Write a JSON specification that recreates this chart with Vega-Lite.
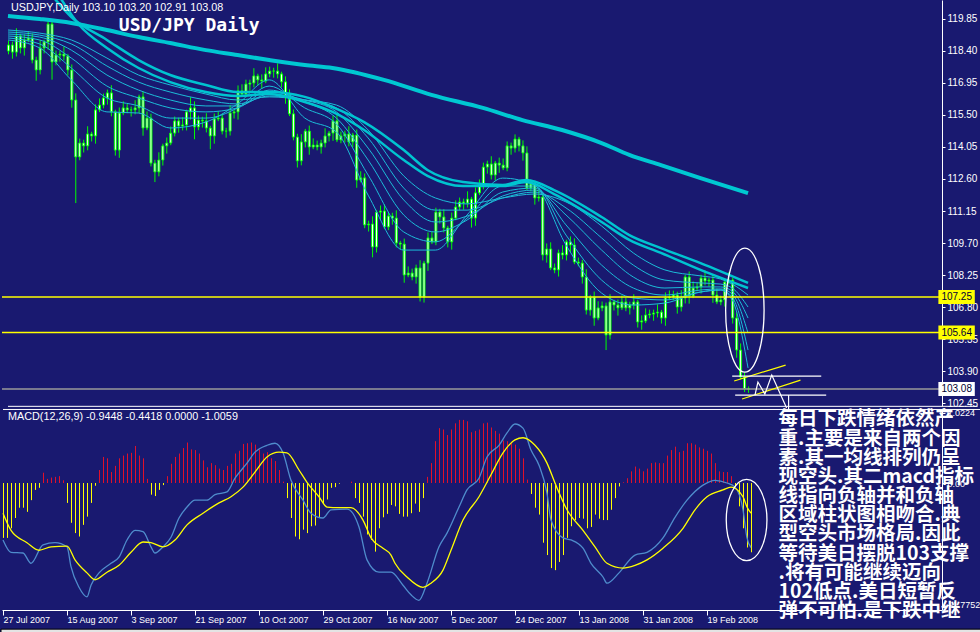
{
"$schema": "https://vega.github.io/schema/vega-lite/v6.json",
"background": "#191970",
"padding": 0,
"bounds": "flush",
"spacing": 3,
"config": {"view": {"stroke": null}, "axis": {"labelOverlap": false, "labelBound": false, "labelFlush": false, "grid": false, "labelColor": "#ffffff", "tickColor": "#ffffff", "domainColor": "#ffffff", "labelFont": "Liberation Sans"}},
"datasets": {
"one": [{}],
"candles": [
{"i":0,"o":118.40,"h":118.87,"l":118.25,"c":118.67},
{"i":1,"o":118.67,"h":118.82,"l":118.05,"c":118.35},
{"i":2,"o":118.35,"h":119.43,"l":118.15,"c":119.08},
{"i":3,"o":119.08,"h":119.18,"l":118.29,"c":118.54},
{"i":4,"o":118.54,"h":119.15,"l":118.19,"c":118.90},
{"i":5,"o":118.90,"h":119.29,"l":118.80,"c":118.99},
{"i":6,"o":118.99,"h":119.19,"l":117.84,"c":117.99},
{"i":7,"o":117.99,"h":118.14,"l":117.05,"c":117.54},
{"i":8,"o":117.54,"h":118.89,"l":117.34,"c":118.54},
{"i":9,"o":118.54,"h":118.91,"l":118.29,"c":118.81},
{"i":10,"o":118.81,"h":119.80,"l":118.46,"c":119.62},
{"i":11,"o":119.62,"h":119.75,"l":117.10,"c":117.90},
{"i":12,"o":117.90,"h":118.42,"l":117.75,"c":118.22},
{"i":13,"o":118.22,"h":118.41,"l":117.92,"c":118.26},
{"i":14,"o":118.26,"h":118.61,"l":117.97,"c":118.17},
{"i":15,"o":118.17,"h":118.27,"l":117.29,"c":117.54},
{"i":16,"o":117.54,"h":117.79,"l":115.83,"c":116.18},
{"i":17,"o":116.18,"h":116.48,"l":111.51,"c":113.60},
{"i":18,"o":113.60,"h":114.43,"l":113.45,"c":114.23},
{"i":19,"o":114.23,"h":114.38,"l":113.80,"c":114.10},
{"i":20,"o":114.10,"h":114.99,"l":113.90,"c":114.64},
{"i":21,"o":114.64,"h":114.74,"l":114.30,"c":114.55},
{"i":22,"o":114.55,"h":115.98,"l":114.20,"c":115.73},
{"i":23,"o":115.73,"h":116.25,"l":115.63,"c":115.95},
{"i":24,"o":115.95,"h":116.47,"l":115.80,"c":116.27},
{"i":25,"o":116.27,"h":116.65,"l":115.97,"c":116.50},
{"i":26,"o":116.50,"h":116.85,"l":115.44,"c":115.64},
{"i":27,"o":115.64,"h":115.74,"l":113.66,"c":113.91},
{"i":28,"o":113.91,"h":115.84,"l":113.56,"c":115.59},
{"i":29,"o":115.59,"h":116.12,"l":115.49,"c":115.82},
{"i":30,"o":115.82,"h":116.02,"l":115.58,"c":115.73},
{"i":31,"o":115.73,"h":115.88,"l":115.43,"c":115.73},
{"i":32,"o":115.73,"h":116.17,"l":115.53,"c":115.82},
{"i":33,"o":115.82,"h":116.42,"l":115.57,"c":116.32},
{"i":34,"o":116.32,"h":116.57,"l":114.56,"c":114.91},
{"i":35,"o":114.91,"h":115.66,"l":114.81,"c":115.36},
{"i":36,"o":115.36,"h":115.56,"l":113.17,"c":113.32},
{"i":37,"o":113.32,"h":113.47,"l":112.46,"c":112.92},
{"i":38,"o":112.92,"h":113.81,"l":112.72,"c":113.46},
{"i":39,"o":113.46,"h":114.20,"l":113.21,"c":114.10},
{"i":40,"o":114.10,"h":114.48,"l":113.75,"c":114.23},
{"i":41,"o":114.23,"h":114.98,"l":114.13,"c":114.68},
{"i":42,"o":114.68,"h":115.43,"l":114.53,"c":115.23},
{"i":43,"o":115.23,"h":115.38,"l":114.70,"c":115.00},
{"i":44,"o":115.00,"h":115.40,"l":114.80,"c":115.05},
{"i":45,"o":115.05,"h":115.74,"l":114.80,"c":115.64},
{"i":46,"o":115.64,"h":116.30,"l":115.29,"c":115.82},
{"i":47,"o":115.82,"h":116.12,"l":114.40,"c":114.96},
{"i":48,"o":114.96,"h":115.47,"l":114.81,"c":115.27},
{"i":49,"o":115.27,"h":115.42,"l":114.93,"c":115.23},
{"i":50,"o":115.23,"h":115.58,"l":114.71,"c":114.91},
{"i":51,"o":114.91,"h":115.01,"l":113.95,"c":114.55},
{"i":52,"o":114.55,"h":115.57,"l":114.20,"c":115.32},
{"i":53,"o":115.32,"h":115.66,"l":115.22,"c":115.36},
{"i":54,"o":115.36,"h":115.56,"l":114.62,"c":114.77},
{"i":55,"o":114.77,"h":114.92,"l":114.47,"c":114.77},
{"i":56,"o":114.77,"h":115.94,"l":114.57,"c":115.59},
{"i":57,"o":115.59,"h":115.74,"l":115.34,"c":115.64},
{"i":58,"o":115.64,"h":116.84,"l":115.29,"c":116.59},
{"i":59,"o":116.59,"h":116.89,"l":116.35,"c":116.45},
{"i":60,"o":116.45,"h":117.10,"l":116.30,"c":116.90},
{"i":61,"o":116.90,"h":117.10,"l":116.60,"c":116.95},
{"i":62,"o":116.95,"h":117.62,"l":116.75,"c":117.27},
{"i":63,"o":117.27,"h":117.37,"l":116.84,"c":117.09},
{"i":64,"o":117.09,"h":117.34,"l":116.69,"c":117.04},
{"i":65,"o":117.04,"h":117.66,"l":116.94,"c":117.36},
{"i":66,"o":117.36,"h":117.69,"l":117.21,"c":117.49},
{"i":67,"o":117.49,"h":117.64,"l":117.19,"c":117.49},
{"i":68,"o":117.49,"h":117.84,"l":117.16,"c":117.36},
{"i":69,"o":117.36,"h":117.46,"l":116.75,"c":117.00},
{"i":70,"o":117.00,"h":117.25,"l":116.01,"c":116.36},
{"i":71,"o":116.36,"h":116.66,"l":115.45,"c":115.55},
{"i":72,"o":115.55,"h":115.75,"l":114.35,"c":114.50},
{"i":73,"o":114.50,"h":114.65,"l":113.12,"c":113.42},
{"i":74,"o":113.42,"h":114.63,"l":113.22,"c":114.28},
{"i":75,"o":114.28,"h":114.87,"l":114.03,"c":114.77},
{"i":76,"o":114.77,"h":115.02,"l":113.70,"c":114.05},
{"i":77,"o":114.05,"h":114.44,"l":113.95,"c":114.14},
{"i":78,"o":114.14,"h":114.34,"l":113.90,"c":114.05},
{"i":79,"o":114.05,"h":114.38,"l":113.75,"c":114.23},
{"i":80,"o":114.23,"h":114.90,"l":114.03,"c":114.55},
{"i":81,"o":114.55,"h":114.78,"l":114.30,"c":114.68},
{"i":82,"o":114.68,"h":115.48,"l":114.33,"c":115.23},
{"i":83,"o":115.23,"h":115.53,"l":114.27,"c":114.37},
{"i":84,"o":114.37,"h":114.75,"l":114.22,"c":114.55},
{"i":85,"o":114.55,"h":114.79,"l":114.25,"c":114.64},
{"i":86,"o":114.64,"h":114.99,"l":114.08,"c":114.28},
{"i":87,"o":114.28,"h":114.69,"l":114.03,"c":114.59},
{"i":88,"o":114.59,"h":114.84,"l":112.20,"c":112.55},
{"i":89,"o":112.55,"h":112.95,"l":112.45,"c":112.65},
{"i":90,"o":112.65,"h":112.85,"l":110.37,"c":110.52},
{"i":91,"o":110.52,"h":110.71,"l":110.22,"c":110.56},
{"i":92,"o":110.56,"h":110.91,"l":109.05,"c":109.52},
{"i":93,"o":109.52,"h":111.20,"l":109.27,"c":111.10},
{"i":94,"o":111.10,"h":111.40,"l":110.75,"c":111.15},
{"i":95,"o":111.15,"h":111.45,"l":110.33,"c":110.43},
{"i":96,"o":110.43,"h":111.12,"l":110.28,"c":110.92},
{"i":97,"o":110.92,"h":111.07,"l":110.53,"c":110.83},
{"i":98,"o":110.83,"h":111.18,"l":109.50,"c":109.70},
{"i":99,"o":109.70,"h":109.80,"l":109.40,"c":109.65},
{"i":100,"o":109.65,"h":109.90,"l":107.90,"c":108.25},
{"i":101,"o":108.25,"h":108.64,"l":108.15,"c":108.34},
{"i":102,"o":108.34,"h":108.54,"l":108.01,"c":108.16},
{"i":103,"o":108.16,"h":108.72,"l":107.86,"c":108.57},
{"i":104,"o":108.57,"h":108.92,"l":107.05,"c":107.25},
{"i":105,"o":107.25,"h":108.89,"l":107.00,"c":108.79},
{"i":106,"o":108.79,"h":110.18,"l":108.44,"c":109.93},
{"i":107,"o":109.93,"h":110.23,"l":109.65,"c":109.75},
{"i":108,"o":109.75,"h":111.30,"l":109.60,"c":111.10},
{"i":109,"o":111.10,"h":111.25,"l":110.58,"c":110.88},
{"i":110,"o":110.88,"h":111.23,"l":110.18,"c":110.38},
{"i":111,"o":110.38,"h":110.48,"l":109.50,"c":109.75},
{"i":112,"o":109.75,"h":111.08,"l":109.40,"c":110.83},
{"i":113,"o":110.83,"h":111.63,"l":110.73,"c":111.33},
{"i":114,"o":111.33,"h":111.76,"l":111.18,"c":111.56},
{"i":115,"o":111.56,"h":111.71,"l":111.21,"c":111.51},
{"i":116,"o":111.51,"h":112.04,"l":111.31,"c":111.69},
{"i":117,"o":111.69,"h":111.79,"l":110.40,"c":110.83},
{"i":118,"o":110.83,"h":112.22,"l":110.48,"c":111.97},
{"i":119,"o":111.97,"h":112.58,"l":111.87,"c":112.28},
{"i":120,"o":112.28,"h":113.34,"l":112.13,"c":113.14},
{"i":121,"o":113.14,"h":113.43,"l":112.84,"c":113.28},
{"i":122,"o":113.28,"h":113.63,"l":112.58,"c":112.78},
{"i":123,"o":112.78,"h":113.42,"l":112.53,"c":113.32},
{"i":124,"o":113.32,"h":113.57,"l":112.88,"c":113.23},
{"i":125,"o":113.23,"h":113.53,"l":113.00,"c":113.10},
{"i":126,"o":113.10,"h":114.30,"l":112.95,"c":114.10},
{"i":127,"o":114.10,"h":114.25,"l":113.70,"c":114.00},
{"i":128,"o":114.00,"h":114.62,"l":113.80,"c":114.41},
{"i":129,"o":114.41,"h":114.51,"l":113.85,"c":114.10},
{"i":130,"o":114.10,"h":114.35,"l":113.43,"c":113.78},
{"i":131,"o":113.78,"h":114.08,"l":112.09,"c":112.19},
{"i":132,"o":112.19,"h":112.57,"l":112.04,"c":112.37},
{"i":133,"o":112.37,"h":112.52,"l":111.44,"c":111.74},
{"i":134,"o":111.74,"h":112.13,"l":111.58,"c":111.78},
{"i":135,"o":111.78,"h":111.88,"l":108.91,"c":109.16},
{"i":136,"o":109.16,"h":109.68,"l":108.81,"c":109.43},
{"i":137,"o":109.43,"h":109.73,"l":108.47,"c":108.57},
{"i":138,"o":108.57,"h":108.77,"l":108.33,"c":108.48},
{"i":139,"o":108.48,"h":109.40,"l":108.18,"c":109.25},
{"i":140,"o":109.25,"h":109.60,"l":108.96,"c":109.16},
{"i":141,"o":109.16,"h":109.85,"l":108.91,"c":109.75},
{"i":142,"o":109.75,"h":110.00,"l":109.26,"c":109.61},
{"i":143,"o":109.61,"h":109.91,"l":108.74,"c":108.84},
{"i":144,"o":108.84,"h":109.04,"l":108.64,"c":108.79},
{"i":145,"o":108.79,"h":108.94,"l":107.86,"c":108.16},
{"i":146,"o":108.16,"h":108.51,"l":106.46,"c":106.66},
{"i":147,"o":106.66,"h":107.35,"l":106.41,"c":107.25},
{"i":148,"o":107.25,"h":107.50,"l":105.95,"c":106.30},
{"i":149,"o":106.30,"h":107.06,"l":106.20,"c":106.76},
{"i":150,"o":106.76,"h":107.05,"l":106.61,"c":106.85},
{"i":151,"o":106.85,"h":107.00,"l":104.85,"c":105.53},
{"i":152,"o":105.53,"h":107.38,"l":105.33,"c":107.03},
{"i":153,"o":107.03,"h":107.13,"l":106.64,"c":106.89},
{"i":154,"o":106.89,"h":107.14,"l":106.41,"c":106.76},
{"i":155,"o":106.76,"h":107.33,"l":106.66,"c":107.03},
{"i":156,"o":107.03,"h":107.23,"l":106.61,"c":106.76},
{"i":157,"o":106.76,"h":107.04,"l":106.46,"c":106.89},
{"i":158,"o":106.89,"h":107.38,"l":106.69,"c":107.03},
{"i":159,"o":107.03,"h":107.13,"l":105.87,"c":106.12},
{"i":160,"o":106.12,"h":106.42,"l":105.77,"c":106.17},
{"i":161,"o":106.17,"h":106.74,"l":106.07,"c":106.44},
{"i":162,"o":106.44,"h":106.68,"l":106.29,"c":106.48},
{"i":163,"o":106.48,"h":106.68,"l":106.18,"c":106.53},
{"i":164,"o":106.53,"h":106.92,"l":106.33,"c":106.57},
{"i":165,"o":106.57,"h":106.67,"l":106.05,"c":106.30},
{"i":166,"o":106.30,"h":107.46,"l":105.95,"c":107.21},
{"i":167,"o":107.21,"h":107.55,"l":107.11,"c":107.25},
{"i":168,"o":107.25,"h":107.54,"l":107.10,"c":107.34},
{"i":169,"o":107.34,"h":107.49,"l":106.50,"c":106.80},
{"i":170,"o":106.80,"h":107.56,"l":106.60,"c":107.21},
{"i":171,"o":107.21,"h":108.26,"l":106.96,"c":108.16},
{"i":172,"o":108.16,"h":108.41,"l":106.95,"c":107.30},
{"i":173,"o":107.30,"h":107.96,"l":107.20,"c":107.66},
{"i":174,"o":107.66,"h":107.91,"l":107.51,"c":107.71},
{"i":175,"o":107.71,"h":108.26,"l":107.41,"c":108.11},
{"i":176,"o":108.11,"h":108.46,"l":107.78,"c":107.98},
{"i":177,"o":107.98,"h":108.12,"l":107.73,"c":108.02},
{"i":178,"o":108.02,"h":108.27,"l":106.99,"c":107.34},
{"i":179,"o":107.34,"h":107.64,"l":106.93,"c":107.03},
{"i":180,"o":107.03,"h":107.32,"l":106.88,"c":107.12},
{"i":181,"o":107.12,"h":108.08,"l":106.82,"c":107.93},
{"i":182,"o":107.93,"h":108.37,"l":107.82,"c":108.02},
{"i":183,"o":108.02,"h":108.12,"l":106.05,"c":106.30},
{"i":184,"o":106.30,"h":106.55,"l":104.50,"c":104.85},
{"i":185,"o":104.85,"h":105.15,"l":103.53,"c":103.63},
{"i":186,"o":103.63,"h":103.83,"l":102.95,"c":103.10},
{"i":187,"o":103.10,"h":103.20,"l":102.91,"c":103.08}
],
"ma": [
{"s":"A","i":0,"p":119.99},{"s":"A","i":8,"p":119.85},{"s":"A","i":16,"p":119.67},{"s":"A","i":25,"p":119.35},{"s":"A","i":33,"p":119.03},{"s":"A","i":41,"p":118.76},{"s":"A","i":50,"p":118.44},{"s":"A","i":58,"p":118.22},{"s":"A","i":66,"p":117.99},{"s":"A","i":75,"p":117.76},{"s":"A","i":82,"p":117.63},{"s":"A","i":95,"p":117.09},{"s":"A","i":107,"p":116.41},{"s":"A","i":120,"p":115.82},{"s":"A","i":130,"p":115.27},{"s":"A","i":140,"p":114.82},{"s":"A","i":150,"p":114.23},{"s":"A","i":157,"p":113.69},{"s":"A","i":165,"p":113.23},{"s":"A","i":175,"p":112.64},{"s":"A","i":187,"p":111.96},
{"s":"B1","i":10,"p":121.16},{"s":"B1","i":16,"p":119.94},{"s":"B1","i":25,"p":118.90},{"s":"B1","i":33,"p":117.99},{"s":"B1","i":41,"p":117.31},{"s":"B1","i":50,"p":116.86},{"s":"B1","i":58,"p":116.54},{"s":"B1","i":66,"p":116.54},{"s":"B1","i":75,"p":116.32},{"s":"B1","i":82,"p":115.86},{"s":"B1","i":90,"p":115.18},{"s":"B1","i":100,"p":113.91},{"s":"B1","i":106,"p":113.01},{"s":"B1","i":115,"p":112.46},{"s":"B1","i":125,"p":112.33},{"s":"B1","i":131,"p":112.55},{"s":"B1","i":138,"p":112.10},{"s":"B1","i":150,"p":110.88},{"s":"B1","i":157,"p":110.06},{"s":"B1","i":165,"p":109.47},{"s":"B1","i":175,"p":108.79},{"s":"B1","i":187,"p":107.89},
{"s":"B2","i":12,"p":121.16},{"s":"B2","i":18,"p":119.58},{"s":"B2","i":25,"p":118.54},{"s":"B2","i":33,"p":117.63},{"s":"B2","i":41,"p":116.99},{"s":"B2","i":50,"p":116.54},{"s":"B2","i":58,"p":116.36},{"s":"B2","i":66,"p":116.45},{"s":"B2","i":75,"p":116.09},{"s":"B2","i":82,"p":115.64},{"s":"B2","i":90,"p":114.82},{"s":"B2","i":100,"p":113.46},{"s":"B2","i":106,"p":112.74},{"s":"B2","i":115,"p":112.28},{"s":"B2","i":125,"p":112.28},{"s":"B2","i":131,"p":112.46},{"s":"B2","i":138,"p":111.92},{"s":"B2","i":150,"p":110.65},{"s":"B2","i":157,"p":109.84},{"s":"B2","i":165,"p":109.25},{"s":"B2","i":175,"p":108.48},{"s":"B2","i":187,"p":107.66},
{"s":"T1","i":0,"p":118.90},{"s":"T1","i":8,"p":118.54},{"s":"T1","i":16,"p":117.09},{"s":"T1","i":25,"p":115.64},{"s":"T1","i":33,"p":115.59},{"s":"T1","i":41,"p":114.91},{"s":"T1","i":50,"p":115.18},{"s":"T1","i":58,"p":116.00},{"s":"T1","i":66,"p":117.09},{"s":"T1","i":75,"p":115.36},{"s":"T1","i":83,"p":114.73},{"s":"T1","i":91,"p":111.87},{"s":"T1","i":100,"p":109.38},{"s":"T1","i":108,"p":109.38},{"s":"T1","i":116,"p":110.97},{"s":"T1","i":125,"p":112.64},{"s":"T1","i":133,"p":112.33},{"s":"T1","i":141,"p":109.61},{"s":"T1","i":150,"p":107.43},{"s":"T1","i":158,"p":106.89},{"s":"T1","i":166,"p":106.98},{"s":"T1","i":175,"p":107.48},{"s":"T1","i":180,"p":107.57},{"s":"T1","i":183,"p":107.12},{"s":"T1","i":187,"p":104.04},
{"s":"T2","i":0,"p":118.99},{"s":"T2","i":8,"p":118.72},{"s":"T2","i":16,"p":117.63},{"s":"T2","i":25,"p":116.27},{"s":"T2","i":33,"p":115.91},{"s":"T2","i":41,"p":115.36},{"s":"T2","i":50,"p":115.36},{"s":"T2","i":58,"p":115.82},{"s":"T2","i":66,"p":116.81},{"s":"T2","i":75,"p":115.82},{"s":"T2","i":83,"p":115.09},{"s":"T2","i":91,"p":112.78},{"s":"T2","i":100,"p":110.20},{"s":"T2","i":108,"p":109.75},{"s":"T2","i":116,"p":110.83},{"s":"T2","i":125,"p":112.28},{"s":"T2","i":133,"p":112.28},{"s":"T2","i":141,"p":110.06},{"s":"T2","i":150,"p":108.02},{"s":"T2","i":158,"p":107.21},{"s":"T2","i":166,"p":107.12},{"s":"T2","i":175,"p":107.48},{"s":"T2","i":180,"p":107.57},{"s":"T2","i":183,"p":107.25},{"s":"T2","i":187,"p":104.85},
{"s":"T3","i":0,"p":119.08},{"s":"T3","i":8,"p":118.90},{"s":"T3","i":16,"p":118.08},{"s":"T3","i":25,"p":116.81},{"s":"T3","i":33,"p":116.27},{"s":"T3","i":41,"p":115.82},{"s":"T3","i":50,"p":115.64},{"s":"T3","i":58,"p":115.82},{"s":"T3","i":66,"p":116.63},{"s":"T3","i":75,"p":116.09},{"s":"T3","i":83,"p":115.36},{"s":"T3","i":91,"p":113.46},{"s":"T3","i":100,"p":110.97},{"s":"T3","i":108,"p":110.20},{"s":"T3","i":116,"p":110.74},{"s":"T3","i":125,"p":112.01},{"s":"T3","i":133,"p":112.19},{"s":"T3","i":141,"p":110.52},{"s":"T3","i":150,"p":108.70},{"s":"T3","i":158,"p":107.66},{"s":"T3","i":166,"p":107.34},{"s":"T3","i":175,"p":107.57},{"s":"T3","i":180,"p":107.62},{"s":"T3","i":183,"p":107.39},{"s":"T3","i":187,"p":105.62},
{"s":"T4","i":0,"p":119.17},{"s":"T4","i":8,"p":119.03},{"s":"T4","i":16,"p":118.44},{"s":"T4","i":25,"p":117.31},{"s":"T4","i":33,"p":116.63},{"s":"T4","i":41,"p":116.18},{"s":"T4","i":50,"p":115.91},{"s":"T4","i":58,"p":115.91},{"s":"T4","i":66,"p":116.45},{"s":"T4","i":75,"p":116.18},{"s":"T4","i":83,"p":115.64},{"s":"T4","i":91,"p":114.00},{"s":"T4","i":100,"p":111.65},{"s":"T4","i":108,"p":110.65},{"s":"T4","i":116,"p":110.92},{"s":"T4","i":125,"p":111.83},{"s":"T4","i":133,"p":112.10},{"s":"T4","i":141,"p":110.97},{"s":"T4","i":150,"p":109.38},{"s":"T4","i":158,"p":108.16},{"s":"T4","i":166,"p":107.66},{"s":"T4","i":175,"p":107.71},{"s":"T4","i":180,"p":107.71},{"s":"T4","i":183,"p":107.52},{"s":"T4","i":187,"p":106.30},
{"s":"T5","i":0,"p":119.26},{"s":"T5","i":8,"p":119.12},{"s":"T5","i":16,"p":118.72},{"s":"T5","i":25,"p":117.72},{"s":"T5","i":33,"p":116.99},{"s":"T5","i":41,"p":116.54},{"s":"T5","i":50,"p":116.18},{"s":"T5","i":58,"p":116.00},{"s":"T5","i":66,"p":116.36},{"s":"T5","i":75,"p":116.18},{"s":"T5","i":83,"p":115.82},{"s":"T5","i":91,"p":114.46},{"s":"T5","i":100,"p":112.19},{"s":"T5","i":108,"p":111.19},{"s":"T5","i":116,"p":111.19},{"s":"T5","i":125,"p":111.74},{"s":"T5","i":133,"p":112.01},{"s":"T5","i":141,"p":111.29},{"s":"T5","i":150,"p":109.93},{"s":"T5","i":158,"p":108.70},{"s":"T5","i":166,"p":108.02},{"s":"T5","i":175,"p":107.89},{"s":"T5","i":180,"p":107.84},{"s":"T5","i":183,"p":107.66},{"s":"T5","i":187,"p":106.80},
{"s":"T6","i":0,"p":119.35},{"s":"T6","i":8,"p":119.21},{"s":"T6","i":16,"p":118.90},{"s":"T6","i":25,"p":118.08},{"s":"T6","i":33,"p":117.31},{"s":"T6","i":41,"p":116.86},{"s":"T6","i":50,"p":116.45},{"s":"T6","i":58,"p":116.18},{"s":"T6","i":66,"p":116.32},{"s":"T6","i":75,"p":116.18},{"s":"T6","i":83,"p":115.95},{"s":"T6","i":91,"p":114.82},{"s":"T6","i":100,"p":112.74},{"s":"T6","i":108,"p":111.74},{"s":"T6","i":116,"p":111.47},{"s":"T6","i":125,"p":111.74},{"s":"T6","i":133,"p":111.92},{"s":"T6","i":141,"p":111.56},{"s":"T6","i":150,"p":110.47},{"s":"T6","i":158,"p":109.25},{"s":"T6","i":166,"p":108.48},{"s":"T6","i":175,"p":108.21},{"s":"T6","i":180,"p":108.07},{"s":"T6","i":183,"p":107.84},{"s":"T6","i":187,"p":107.34}
],
"levels": [
{"p":107.25,"k":"y"},{"p":105.64,"k":"y"},{"p":103.08,"k":"g"}
],
"annot": [
{"g":"y1","i":183.5,"p":103.45},{"g":"y1","i":196.5,"p":104.17},
{"g":"y2","i":185.5,"p":102.63},{"g":"y2","i":200.25,"p":103.49},
{"g":"w1","i":183,"p":103.67},{"g":"w1","i":205.5,"p":103.67},
{"g":"w2","i":183.75,"p":102.81},{"g":"w2","i":206.75,"p":102.81},
{"g":"zz","i":188.75,"p":102.81},{"g":"zz","i":189.5,"p":103.40},{"g":"zz","i":191.25,"p":102.86},{"g":"zz","i":193,"p":103.72},{"g":"zz","i":196.75,"p":102.22},
{"g":"v","i":197.25,"p":102.81},{"g":"v","i":197.25,"p":102.10}
],
"hist": [
{"i":0,"h":-0.80},{"i":1,"h":-0.80},{"i":2,"h":-0.66},{"i":3,"h":-0.51},{"i":4,"h":-0.36},{"i":5,"h":-0.36},{"i":6,"h":-0.42},{"i":7,"h":-0.25},{"i":8,"h":-0.10},{"i":9,"h":-0.07},
{"i":10,"h":0.15},{"i":11,"h":0.06},{"i":12,"h":0.08},{"i":13,"h":0.09},{"i":14,"h":0.10},{"i":15,"h":0.04},{"i":16,"h":-0.29},{"i":17,"h":-0.58},{"i":18,"h":-0.73},{"i":19,"h":-0.78},
{"i":20,"h":-0.61},{"i":21,"h":-0.49},{"i":22,"h":-0.29},{"i":23,"h":-0.04},{"i":24,"h":0.19},{"i":25,"h":0.38},{"i":26,"h":0.36},{"i":27,"h":0.16},{"i":28,"h":0.25},{"i":29,"h":0.36},
{"i":30,"h":0.40},{"i":31,"h":0.43},{"i":32,"h":0.44},{"i":33,"h":0.54},{"i":34,"h":0.40},{"i":35,"h":0.36},{"i":36,"h":0.06},{"i":37,"h":-0.17},{"i":38,"h":-0.19},{"i":39,"h":-0.10},
{"i":40,"h":-0.03},{"i":41,"h":0.10},{"i":42,"h":0.28},{"i":43,"h":0.38},{"i":44,"h":0.43},{"i":45,"h":0.51},{"i":46,"h":0.59},{"i":47,"h":0.49},{"i":48,"h":0.48},{"i":49,"h":0.43},
{"i":50,"h":0.33},{"i":51,"h":0.23},{"i":52,"h":0.29},{"i":53,"h":0.26},{"i":54,"h":0.21},{"i":55,"h":0.19},{"i":56,"h":0.25},{"i":57,"h":0.28},{"i":58,"h":0.43},{"i":59,"h":0.47},
{"i":60,"h":0.57},{"i":61,"h":0.58},{"i":62,"h":0.59},{"i":63,"h":0.56},{"i":64,"h":0.49},{"i":65,"h":0.43},{"i":66,"h":0.45},{"i":67,"h":0.36},{"i":68,"h":0.32},{"i":69,"h":0.19},
{"i":70,"h":0.02},{"i":71,"h":-0.22},{"i":72,"h":-0.51},{"i":73,"h":-0.78},{"i":74,"h":-0.82},{"i":75,"h":-0.68},{"i":76,"h":-0.73},{"i":77,"h":-0.63},{"i":78,"h":-0.62},{"i":79,"h":-0.51},
{"i":80,"h":-0.29},{"i":81,"h":-0.24},{"i":82,"h":-0.07},{"i":83,"h":-0.06},{"i":84,"h":-0.01},{"i":85,"h":0},{"i":86,"h":0},{"i":87,"h":0.02},{"i":88,"h":-0.22},{"i":89,"h":-0.29},
{"i":90,"h":-0.49},{"i":91,"h":-0.75},{"i":92,"h":-0.83},{"i":93,"h":-1.00},{"i":94,"h":-0.66},{"i":95,"h":-0.50},{"i":96,"h":-0.45},{"i":97,"h":-0.32},{"i":98,"h":-0.34},{"i":99,"h":-0.45},
{"i":100,"h":-0.49},{"i":101,"h":-0.49},{"i":102,"h":-0.44},{"i":103,"h":-0.30},{"i":104,"h":-0.42},{"i":105,"h":-0.22},{"i":106,"h":0.09},{"i":107,"h":0.29},{"i":108,"h":0.61},{"i":109,"h":0.80},
{"i":110,"h":0.78},{"i":111,"h":0.70},{"i":112,"h":0.78},{"i":113,"h":0.87},{"i":114,"h":0.92},{"i":115,"h":0.92},{"i":116,"h":0.90},{"i":117,"h":0.74},{"i":118,"h":0.76},{"i":119,"h":0.78},
{"i":120,"h":0.87},{"i":121,"h":0.88},{"i":122,"h":0.81},{"i":123,"h":0.76},{"i":124,"h":0.72},{"i":125,"h":0.62},{"i":126,"h":0.61},{"i":127,"h":0.58},{"i":128,"h":0.56},{"i":129,"h":0.50},
{"i":130,"h":0.36},{"i":131,"h":0.05},{"i":132,"h":-0.16},{"i":133,"h":-0.36},{"i":134,"h":-0.46},{"i":135,"h":-0.87},{"i":136,"h":-1.05},{"i":137,"h":-1.24},{"i":138,"h":-1.27},{"i":139,"h":-1.15},
{"i":140,"h":-1.05},{"i":141,"h":-0.80},{"i":142,"h":-0.63},{"i":143,"h":-0.54},{"i":144,"h":-0.51},{"i":145,"h":-0.52},{"i":146,"h":-0.66},{"i":147,"h":-0.64},{"i":148,"h":-0.46},{"i":149,"h":-0.52},
{"i":150,"h":-0.54},{"i":151,"h":-0.54},{"i":152,"h":-0.39},{"i":153,"h":-0.22},{"i":154,"h":-0.05},{"i":155,"h":0.01},{"i":156,"h":0.07},{"i":157,"h":0.17},{"i":158,"h":0.24},{"i":159,"h":0.21},
{"i":160,"h":0.17},{"i":161,"h":0.21},{"i":162,"h":0.29},{"i":163,"h":0.30},{"i":164,"h":0.29},{"i":165,"h":0.29},{"i":166,"h":0.40},{"i":167,"h":0.48},{"i":168,"h":0.53},{"i":169,"h":0.45},
{"i":170,"h":0.47},{"i":171,"h":0.58},{"i":172,"h":0.58},{"i":173,"h":0.56},{"i":174,"h":0.52},{"i":175,"h":0.50},{"i":176,"h":0.47},{"i":177,"h":0.43},{"i":178,"h":0.29},{"i":179,"h":0.17},
{"i":180,"h":0.16},{"i":181,"h":0.16},{"i":182,"h":0.10},{"i":183,"h":-0.07},{"i":184,"h":-0.34},{"i":185,"h":-0.66},{"i":186,"h":-0.94},{"i":187,"h":-1.01}
],
"macdlines": [
{"s":"m","i":0,"v":-0.83},{"s":"m","i":2,"v":-1.01},{"s":"m","i":5,"v":-1.02},{"s":"m","i":7,"v":-1.17},{"s":"m","i":10,"v":-0.90},{"s":"m","i":13,"v":-0.87},{"s":"m","i":16,"v":-0.93},{"s":"m","i":17,"v":-1.22},{"s":"m","i":19,"v":-1.52},{"s":"m","i":21,"v":-1.66},{"s":"m","i":22,"v":-1.49},{"s":"m","i":24,"v":-1.31},{"s":"m","i":27,"v":-1.17},{"s":"m","i":29,"v":-1.08},{"s":"m","i":31,"v":-0.83},{"s":"m","i":33,"v":-0.69},{"s":"m","i":35,"v":-0.71},{"s":"m","i":37,"v":-0.93},{"s":"m","i":38,"v":-1.02},{"s":"m","i":40,"v":-0.93},{"s":"m","i":42,"v":-0.79},{"s":"m","i":44,"v":-0.51},{"s":"m","i":46,"v":-0.35},{"s":"m","i":48,"v":-0.25},{"s":"m","i":51,"v":-0.25},{"s":"m","i":53,"v":-0.17},{"s":"m","i":56,"v":-0.13},{"s":"m","i":58,"v":0.07},{"s":"m","i":61,"v":0.29},{"s":"m","i":63,"v":0.45},{"s":"m","i":66,"v":0.55},{"s":"m","i":68,"v":0.58},{"s":"m","i":70,"v":0.44},{"s":"m","i":72,"v":0.04},{"s":"m","i":75,"v":-0.25},{"s":"m","i":77,"v":-0.44},{"s":"m","i":80,"v":-0.51},{"s":"m","i":82,"v":-0.39},{"s":"m","i":86,"v":-0.38},{"s":"m","i":89,"v":-0.64},{"s":"m","i":91,"v":-1.12},{"s":"m","i":94,"v":-1.30},{"s":"m","i":97,"v":-1.30},{"s":"m","i":100,"v":-1.49},{"s":"m","i":102,"v":-1.63},{"s":"m","i":104,"v":-1.71},{"s":"m","i":106,"v":-1.46},{"s":"m","i":109,"v":-0.93},{"s":"m","i":111,"v":-0.73},{"s":"m","i":114,"v":-0.35},{"s":"m","i":116,"v":-0.10},{"s":"m","i":119,"v":0.07},{"s":"m","i":121,"v":0.38},{"s":"m","i":124,"v":0.55},{"s":"m","i":126,"v":0.73},{"s":"m","i":128,"v":0.86},{"s":"m","i":130,"v":0.80},{"s":"m","i":132,"v":0.48},{"s":"m","i":134,"v":0.26},{"s":"m","i":136,"v":-0.15},{"s":"m","i":137,"v":-0.54},{"s":"m","i":140,"v":-0.80},{"s":"m","i":142,"v":-0.83},{"s":"m","i":145,"v":-0.95},{"s":"m","i":147,"v":-1.17},{"s":"m","i":150,"v":-1.37},{"s":"m","i":151,"v":-1.46},{"s":"m","i":154,"v":-1.31},{"s":"m","i":158,"v":-1.05},{"s":"m","i":161,"v":-1.01},{"s":"m","i":165,"v":-0.80},{"s":"m","i":168,"v":-0.50},{"s":"m","i":171,"v":-0.25},{"s":"m","i":175,"v":-0.03},{"s":"m","i":178,"v":0.04},{"s":"m","i":181,"v":0.00},{"s":"m","i":183,"v":-0.06},{"s":"m","i":185,"v":-0.39},{"s":"m","i":186,"v":-0.80},{"s":"m","i":187,"v":-0.94},
{"s":"sg","i":0,"v":-0.44},{"s":"sg","i":2,"v":-0.69},{"s":"sg","i":6,"v":-0.87},{"s":"sg","i":9,"v":-0.98},{"s":"sg","i":12,"v":-0.93},{"s":"sg","i":16,"v":-0.92},{"s":"sg","i":18,"v":-1.12},{"s":"sg","i":21,"v":-1.31},{"s":"sg","i":23,"v":-1.41},{"s":"sg","i":26,"v":-1.30},{"s":"sg","i":29,"v":-1.20},{"s":"sg","i":32,"v":-1.01},{"s":"sg","i":35,"v":-0.86},{"s":"sg","i":37,"v":-0.87},{"s":"sg","i":40,"v":-0.93},{"s":"sg","i":43,"v":-0.83},{"s":"sg","i":46,"v":-0.61},{"s":"sg","i":50,"v":-0.44},{"s":"sg","i":54,"v":-0.29},{"s":"sg","i":57,"v":-0.20},{"s":"sg","i":60,"v":-0.06},{"s":"sg","i":63,"v":0.16},{"s":"sg","i":66,"v":0.38},{"s":"sg","i":69,"v":0.45},{"s":"sg","i":71,"v":0.44},{"s":"sg","i":74,"v":0.19},{"s":"sg","i":76,"v":0.01},{"s":"sg","i":79,"v":-0.20},{"s":"sg","i":81,"v":-0.35},{"s":"sg","i":84,"v":-0.36},{"s":"sg","i":87,"v":-0.36},{"s":"sg","i":90,"v":-0.54},{"s":"sg","i":92,"v":-0.80},{"s":"sg","i":95,"v":-0.95},{"s":"sg","i":97,"v":-1.05},{"s":"sg","i":98,"v":-1.17},{"s":"sg","i":101,"v":-1.37},{"s":"sg","i":105,"v":-1.52},{"s":"sg","i":107,"v":-1.46},{"s":"sg","i":110,"v":-1.27},{"s":"sg","i":112,"v":-0.98},{"s":"sg","i":115,"v":-0.54},{"s":"sg","i":119,"v":-0.20},{"s":"sg","i":122,"v":0.12},{"s":"sg","i":125,"v":0.44},{"s":"sg","i":128,"v":0.63},{"s":"sg","i":130,"v":0.66},{"s":"sg","i":133,"v":0.55},{"s":"sg","i":136,"v":0.29},{"s":"sg","i":138,"v":0.00},{"s":"sg","i":141,"v":-0.39},{"s":"sg","i":145,"v":-0.69},{"s":"sg","i":148,"v":-0.93},{"s":"sg","i":151,"v":-1.17},{"s":"sg","i":155,"v":-1.24},{"s":"sg","i":158,"v":-1.20},{"s":"sg","i":161,"v":-1.12},{"s":"sg","i":165,"v":-0.95},{"s":"sg","i":170,"v":-0.66},{"s":"sg","i":173,"v":-0.39},{"s":"sg","i":176,"v":-0.20},{"s":"sg","i":180,"v":-0.10},{"s":"sg","i":182,"v":-0.06},{"s":"sg","i":185,"v":-0.20},{"s":"sg","i":186,"v":-0.35},{"s":"sg","i":187,"v":-0.44}
]
},
"vconcat": [
{
"width": 940, "height": 406,
"layer": [
{"data": {"name": "candles"},
 "mark": {"type": "rule", "color": "#00ff00", "strokeWidth": 1, "xOffset": 0.5, "clip": true},
 "encoding": {
  "x": {"field": "i", "type": "quantitative", "scale": {"domain": [-0.25, 234.75], "nice": false, "zero": false}, "axis": null, "title": null},
  "y": {"field": "l", "type": "quantitative", "scale": {"domain": [102.315, 120.71], "nice": false, "zero": false}, "title": null,
        "axis": {"orient": "right", "values": [102.45, 103.9, 105.35, 106.8, 108.25, 109.7, 111.15, 112.6, 114.05, 115.5, 116.95, 118.4, 119.85], "tickCount": 30, "format": ".2f", "tickSize": 3, "labelPadding": 2, "labelFont": "Liberation Sans", "labelFontSize": 10, "title": null, "labelOverlap": false, "labelBound": false, "labelFlush": false}},
  "y2": {"field": "h"}
 }},
{"data": {"name": "candles"},
 "mark": {"type": "bar", "width": 2, "xOffset": 0.5, "fill": "#ffffff", "stroke": "#00ff00", "strokeWidth": 1, "clip": true},
 "encoding": {
  "x": {"field": "i", "type": "quantitative", "axis": null, "title": null},
  "y": {"field": "o", "type": "quantitative", "title": null},
  "y2": {"field": "c"}
 }},
{"data": {"name": "ma"},
 "transform": [{"filter": {"field": "s", "oneOf": ["T1", "T2", "T3", "T4", "T5", "T6"]}}],
 "mark": {"type": "line", "color": "#1cbcd8", "strokeWidth": 1, "interpolate": "monotone", "clip": true},
 "encoding": {
  "x": {"field": "i", "type": "quantitative", "axis": null, "title": null},
  "y": {"field": "p", "type": "quantitative", "title": null},
  "detail": {"field": "s"}
 }},
{"data": {"name": "ma"},
 "transform": [{"filter": {"field": "s", "oneOf": ["B1", "B2"]}}],
 "mark": {"type": "line", "color": "#00c4d0", "strokeWidth": 2.5, "interpolate": "monotone", "clip": true},
 "encoding": {
  "x": {"field": "i", "type": "quantitative", "axis": null, "title": null},
  "y": {"field": "p", "type": "quantitative", "title": null},
  "detail": {"field": "s"}
 }},
{"data": {"name": "ma"},
 "transform": [{"filter": {"field": "s", "equal": "A"}}],
 "mark": {"type": "line", "color": "#00c8d2", "strokeWidth": 4, "interpolate": "monotone", "clip": true},
 "encoding": {
  "x": {"field": "i", "type": "quantitative", "axis": null, "title": null},
  "y": {"field": "p", "type": "quantitative", "title": null}
 }},
{"data": {"name": "levels"},
 "mark": {"type": "rule", "strokeWidth": 1.5},
 "encoding": {
  "y": {"field": "p", "type": "quantitative", "title": null},
  "color": {"field": "k", "type": "nominal", "scale": {"domain": ["y", "g"], "range": ["#ffff00", "#9a9a9a"]}, "legend": null}
 }},
{"data": {"name": "annot"},
 "transform": [{"filter": {"field": "g", "oneOf": ["y1", "y2"]}}],
 "mark": {"type": "line", "color": "#ffff00", "strokeWidth": 1.2},
 "encoding": {
  "x": {"field": "i", "type": "quantitative", "axis": null, "title": null},
  "y": {"field": "p", "type": "quantitative", "title": null},
  "detail": {"field": "g"}
 }},
{"data": {"name": "annot"},
 "transform": [{"filter": {"field": "g", "oneOf": ["w1", "w2", "zz", "v"]}}],
 "mark": {"type": "line", "color": "#ffffff", "strokeWidth": 1.2},
 "encoding": {
  "x": {"field": "i", "type": "quantitative", "axis": null, "title": null},
  "y": {"field": "p", "type": "quantitative", "title": null},
  "detail": {"field": "g"}
 }},
{"data": {"name": "one"},
 "mark": {"type": "point", "shape": "M0,-1C0.1712,-1,0.31,-0.5523,0.31,0C0.31,0.5523,0.1712,1,0,1C-0.1712,1,-0.31,0.5523,-0.31,0C-0.31,-0.5523,-0.1712,-1,0,-1Z", "size": 15376, "filled": false, "stroke": "#ffffff", "strokeWidth": 1.3, "opacity": 1},
 "encoding": {
  "x": {"datum": 186.2, "axis": null},
  "y": {"datum": 106.66}
 }},
{"data": {"name": "one"},
 "mark": {"type": "rule", "color": "#ffffff", "strokeWidth": 1},
 "encoding": {
  "x": {"datum": 0, "axis": null},
  "x2": {"datum": 245},
  "y": {"datum": 102.3}
 }},
{"data": {"name": "levels"},
 "mark": {"type": "rect", "yOffset": -7, "y2Offset": 7},
 "encoding": {
  "x": {"datum": 235.1, "axis": null},
  "x2": {"datum": 244.3},
  "y": {"field": "p", "type": "quantitative", "title": null},
  "y2": {"field": "p"},
  "fill": {"field": "k", "type": "nominal", "scale": {"domain": ["y", "g"], "range": ["#ffff00", "#ffffff"]}, "legend": null}
 }},
{"data": {"name": "levels"},
 "mark": {"type": "text", "align": "left", "baseline": "middle", "dx": 3, "color": "#000033", "font": "Liberation Sans", "fontSize": 10},
 "encoding": {
  "x": {"datum": 235.1, "axis": null},
  "y": {"field": "p", "type": "quantitative", "title": null},
  "text": {"field": "p", "type": "quantitative", "format": ".2f"}
 }},
{"data": {"name": "one"},
 "mark": {"type": "text", "align": "left", "baseline": "middle", "color": "#ffffff", "font": "Liberation Sans", "fontSize": 10.8},
 "encoding": {
  "x": {"datum": 0.75, "axis": null},
  "y": {"datum": 120.33},
  "text": {"value": "USDJPY,Daily  103.10 103.20 102.91 103.08"}
 }},
{"data": {"name": "one"},
 "mark": {"type": "text", "align": "left", "baseline": "alphabetic", "color": "#ffffff", "font": "DejaVu Sans Mono", "fontWeight": "bold", "fontSize": 18},
 "encoding": {
  "x": {"datum": 28, "axis": null},
  "y": {"datum": 119.32},
  "text": {"value": "USD/JPY Daily"}
 }}
]
},
{
"width": 940, "height": 201,
"layer": [
{"data": {"name": "hist"},
 "mark": {"type": "rule", "strokeWidth": 1, "xOffset": 0.5},
 "encoding": {
  "x": {"field": "i", "type": "quantitative", "scale": {"domain": [-0.25, 234.75], "nice": false, "zero": false}, "title": null,
        "axis": {"orient": "bottom", "values": [0, 16, 32, 48, 64, 80, 96, 112, 128, 144, 160, 176], "tickCount": 30, "labelExpr": "['27 Jul 2007','15 Aug 2007','3 Sep 2007','21 Sep 2007','10 Oct 2007','29 Oct 2007','16 Nov 2007','5 Dec 2007','24 Dec 2007','13 Jan 2008','31 Jan 2008','19 Feb 2008'][round(datum.value/16)]", "labelAlign": "left", "labelBaseline": "top", "tickSize": 5, "labelPadding": 0, "labelFont": "Liberation Sans", "labelFontSize": 9, "title": null, "labelOverlap": false, "labelBound": false, "labelFlush": false}},
  "y": {"field": "h", "type": "quantitative", "scale": {"domain": [-1.851, 1.079], "nice": false, "zero": false}, "title": null,
        "axis": {"orient": "right", "values": [1.0224, 0, -1.7752], "tickCount": 10, "labelExpr": "datum.value == 0 ? '0.00' : format(datum.value, '.4f')", "tickSize": 3, "labelPadding": 2, "labelFont": "Liberation Sans", "labelFontSize": 9, "title": null, "labelOverlap": false, "labelBound": false, "labelFlush": false}},
  "y2": {"datum": 0},
  "color": {"condition": {"test": "datum.h > 0", "value": "#e0102a"}, "value": "#ffff00"}
 }},
{"data": {"name": "macdlines"},
 "transform": [{"filter": {"field": "s", "equal": "m"}}],
 "mark": {"type": "line", "color": "#4f8ccc", "strokeWidth": 1.3, "interpolate": "monotone"},
 "encoding": {
  "x": {"field": "i", "type": "quantitative", "title": null},
  "y": {"field": "v", "type": "quantitative", "title": null}
 }},
{"data": {"name": "macdlines"},
 "transform": [{"filter": {"field": "s", "equal": "sg"}}],
 "mark": {"type": "line", "color": "#ffff00", "strokeWidth": 1.3, "interpolate": "monotone"},
 "encoding": {
  "x": {"field": "i", "type": "quantitative", "title": null},
  "y": {"field": "v", "type": "quantitative", "title": null}
 }},
{"data": {"name": "one"},
 "mark": {"type": "rule", "color": "#ffffff", "strokeWidth": 1},
 "encoding": {
  "x": {"datum": 0},
  "x2": {"datum": 245},
  "y": {"datum": 1.072}
 }},
{"data": {"name": "one"},
 "mark": {"type": "rect", "color": "#e4e4e4", "stroke": "#000000", "strokeWidth": 1},
 "encoding": {
  "x": {"datum": -0.5},
  "x2": {"datum": 246},
  "y": {"datum": -2.13},
  "y2": {"datum": -2.35}
 }},
{"data": {"name": "one"},
 "mark": {"type": "point", "shape": "M0,-1C0.2762,-1,0.5,-0.5523,0.5,0C0.5,0.5523,0.2762,1,0,1C-0.2762,1,-0.5,0.5523,-0.5,0C-0.5,-0.5523,-0.2762,-1,0,-1Z", "size": 6626, "filled": false, "stroke": "#ffffff", "strokeWidth": 1.3, "opacity": 1},
 "encoding": {
  "x": {"datum": 185.9},
  "y": {"datum": -0.539}
 }},
{"data": {"name": "one"},
 "mark": {"type": "text", "align": "left", "baseline": "middle", "color": "#ffffff", "font": "Liberation Sans", "fontSize": 10.8},
 "encoding": {
  "x": {"datum": 1.25},
  "y": {"datum": 0.962},
  "text": {"value": "MACD(12,26,9) -0.9448 -0.4418 0.0000 -1.0059"}
 }},
{"data": {"name": "one"},
 "mark": {"type": "text", "align": "left", "baseline": "top", "color": "#ffffff", "font": "Noto Sans CJK SC", "fontWeight": "bold", "fontSize": 19.5, "lineHeight": 19.2},
 "encoding": {
  "x": {"datum": 193.9},
  "y": {"datum": 1.06},
  "text": {"value": ["每日下跌情绪依然产", "重.主要是来自两个因", "素.其一均线排列仍呈", "现空头.其二macd指标", "线指向负轴并和负轴", "区域柱状图相吻合.典", "型空头市场格局.因此", "等待美日摆脱103支撑", ".将有可能继续迈向", "102低点.美日短暂反", "弹不可怕.是下跌中继"]}
 }}
]
}
]
}
